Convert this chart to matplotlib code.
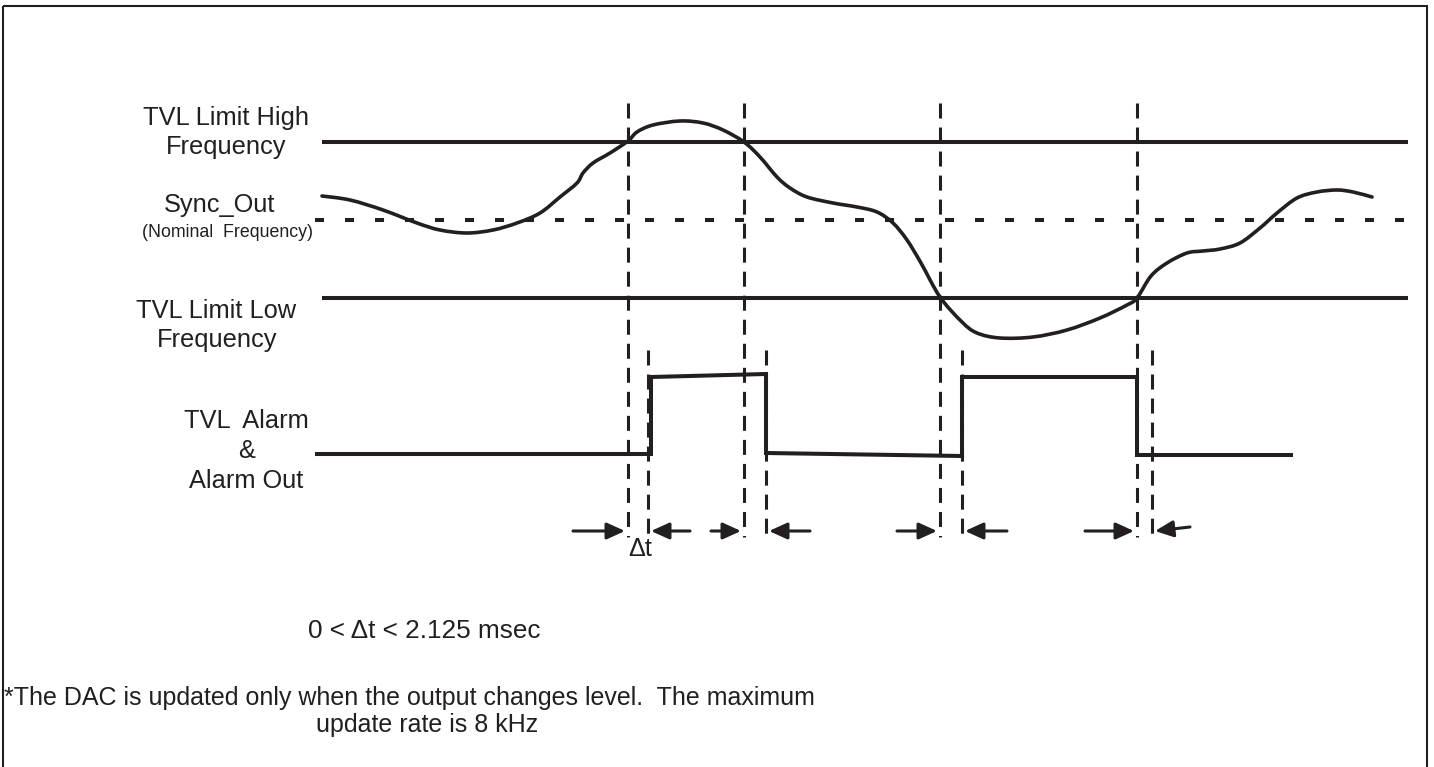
import matplotlib
matplotlib.use("Agg")
import numpy as np
import matplotlib.pyplot as plt
from matplotlib.patches import Rectangle, PathPatch
from matplotlib.path import Path

plt.rcParams["font.family"] = ["Liberation Sans", "DejaVu Sans"]
plt.rcParams["lines.scale_dashes"] = False

INK = "#231f20"

# ---------------- diagram data (diagram units: time → right, level → down) ----
level_high = 142          # TVL Limit High Frequency
level_nominal = 220       # Sync_Out (nominal frequency)
level_low = 298           # TVL Limit Low Frequency
limit_span = [322, 1408]
nominal_span = [315, 1412]

# measured frequency curve
curve_t = [322, 350, 383, 417, 440, 467, 493, 517, 540, 560, 577, 583, 593, 610,
           628, 637, 653, 680, 703, 723, 744, 760, 777, 790, 807, 833, 857, 877,
           893, 907, 921, 940, 962, 977, 1000, 1033, 1067, 1100, 1127, 1137,
           1151, 1167, 1187, 1203, 1220, 1240, 1260, 1277, 1297, 1317, 1337, 1353,
           1372]
curve_f = [196, 200, 210, 223, 230, 233, 230, 223, 213, 197, 183, 173, 163, 153,
           141, 132, 125, 121, 123, 130, 142, 157, 177, 188, 197, 203, 207, 212,
           223, 240, 263, 297, 322, 333, 338, 337, 330, 318, 305, 298,
           276, 263, 253, 251, 249, 243, 228, 213, 198, 192, 190, 192, 197]

# limit crossings and delayed alarm updates
crossing_t = [628, 744, 940, 1137]
delayed_t = [648, 766, 962, 1152]
crossing_top, delayed_top, marker_bottom = 103, 350, 537

# alarm output waveform
alarm_t = [315, 651, 651, 766, 766, 962, 962, 1137, 1137, 1293]
alarm_v = [454, 454, 377, 374, 453, 456, 377, 377, 455, 455]

# Δt arrows
arrow_level = 531
arrow_tail = [573, 690, 711, 810, 897, 1007, 1085, 1190]
arrow_tip = [625, 651, 741, 769, 937, 965, 1134, 1155]
arrow_tail_level = [531, 531, 531, 531, 531, 531, 531, 527]

# row labels: (text, x-centre, baseline, size)
row_labels = [
    ("TVL Limit High", 226, 125, 18.3),
    ("Frequency", 226, 154, 18.3),
    ("Sync_Out", 220, 212, 18.3),
    ("(Nominal  Frequency)", 228, 237, 12.8),
    ("TVL Limit Low", 216, 318, 18.3),
    ("Frequency", 217, 347, 18.3),
    ("TVL  Alarm", 246, 428, 18.3),
    ("&", 247, 458, 18.3),
    ("Alarm Out", 246, 488, 18.3),
]

notes = [
    ("0 < \u0394t < 2.125 msec", 308, 638, 18.8),
    ("*The DAC is updated only when the output changes level.  The maximum", 4, 705, 18.0),
    ("update rate is 8 kHz", 316, 732, 18.0),
]
dt_label = ("\u0394t", 640, 556)

# ---------------- drawing ----------------
fig = plt.figure(figsize=(14.34, 7.67), dpi=100)
ax = fig.add_axes([0, 0, 1, 1])
ax.set_xlim(0, 1434)
ax.set_ylim(767, 0)
ax.axis("off")

# frame
ax.add_patch(Rectangle((3, 6), 1424, 800, fill=False, lw=1.5, edgecolor=INK,
                       clip_on=False))

# limit lines
for lvl in (level_high, level_low):
    ax.plot(limit_span, [lvl, lvl], color=INK, lw=2.9, solid_capstyle="butt")
ax.plot(nominal_span, [level_nominal] * 2, color=INK, lw=2.9,
        linestyle=(0, (6.5, 15.1)), dash_capstyle="butt")

# vertical dashed markers
for x in crossing_t:
    ax.plot([x, x], [crossing_top, marker_bottom], color=INK, lw=2.2,
            linestyle=(0, (10.8, 6.5)), dash_capstyle="butt")
for x in delayed_t:
    ax.plot([x, x], [delayed_top, marker_bottom], color=INK, lw=2.2,
            linestyle=(0, (10.8, 6.5)), dash_capstyle="butt")

# frequency curve, drawn as smooth Bezier path through the measured points
pts = np.column_stack([curve_t, curve_f]).astype(float)
n = len(pts)
verts = [pts[0]]
codes = [Path.MOVETO]
for i in range(n - 1):
    p0 = pts[i - 1] if i > 0 else pts[i]
    p1 = pts[i]
    p2 = pts[i + 1]
    p3 = pts[i + 2] if i + 2 < n else pts[i + 1]
    verts += [p1 + (p2 - p0) / 6.0, p2 - (p3 - p1) / 6.0, p2]
    codes += [Path.CURVE4] * 3
ax.add_patch(PathPatch(Path(verts, codes), fill=False, lw=2.6, edgecolor=INK,
                       capstyle="round", joinstyle="round"))

# alarm waveform
ax.plot(alarm_t, alarm_v, color=INK, lw=2.9, solid_joinstyle="miter",
        solid_capstyle="butt")

# arrows
for t0, t1, y0 in zip(arrow_tail, arrow_tip, arrow_tail_level):
    ax.annotate("", xy=(t1, arrow_level), xytext=(t0, y0),
                arrowprops=dict(arrowstyle="-|>,head_length=0.55,head_width=0.25",
                                lw=2.2, color=INK, shrinkA=0, shrinkB=0,
                                mutation_scale=20))

# texts
for txt, x, y, size in row_labels:
    ax.text(x, y, txt, ha="center", va="baseline", fontsize=size, color=INK)
for txt, x, y, size in notes:
    ax.text(x, y, txt, ha="left", va="baseline", fontsize=size, color=INK)
ax.text(dt_label[1], dt_label[2], dt_label[0], ha="center", va="baseline",
        fontsize=18.3, color=INK)

fig.savefig("out.png", dpi=100, facecolor="white")
